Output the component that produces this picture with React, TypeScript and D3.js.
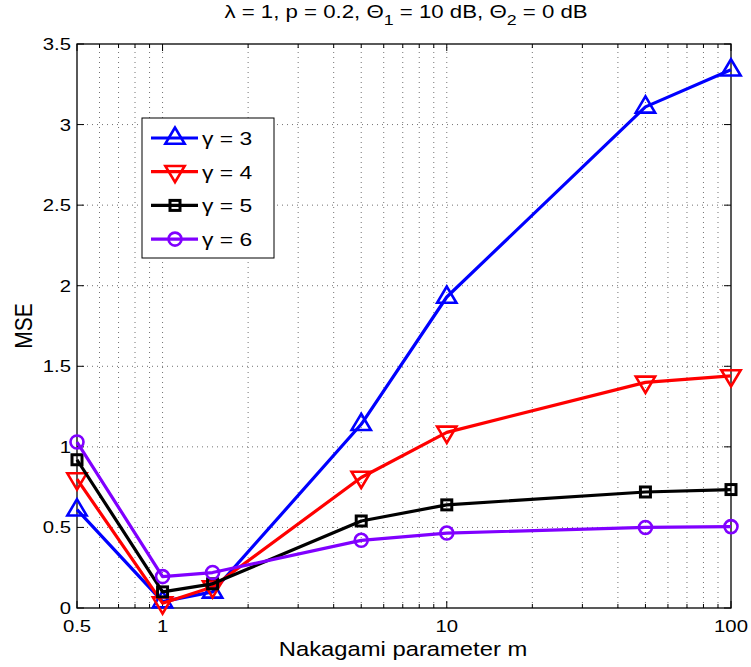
import React from "react";
import * as d3 from "d3";

const mValues = [0.5, 1, 1.5, 5, 10, 50, 100];
const mseGamma3 = [0.61, 0.04, 0.1, 1.14, 1.93, 3.11, 3.34];
const mseGamma4 = [0.8, 0.03, 0.13, 0.81, 1.09, 1.4, 1.44];
const mseGamma5 = [0.92, 0.1, 0.15, 0.54, 0.64, 0.72, 0.735];
const mseGamma6 = [1.03, 0.195, 0.22, 0.42, 0.465, 0.5, 0.505];
const seriesLabels = ["γ = 3", "γ = 4", "γ = 5", "γ = 6"];
const xTickLabels = ["0.5", "1", "10", "100"];
const xTickValues = [0.5, 1, 10, 100];
const yTickValues = [0, 0.5, 1, 1.5, 2, 2.5, 3, 3.5];

const W = 751;
const H = 667;
const margin = { left: 77, right: 20, top: 44, bottom: 59 };
const font = "'Liberation Sans', Arial, Helvetica, sans-serif";
// text glyphs are drawn a little wider than tall
const SX = 1.27;

type MarkerKind = "up" | "down" | "square" | "circle";

const series = [
  { label: seriesLabels[0], values: mseGamma3, color: "#0000ff", marker: "up" as MarkerKind },
  { label: seriesLabels[1], values: mseGamma4, color: "#ff0000", marker: "down" as MarkerKind },
  { label: seriesLabels[2], values: mseGamma5, color: "#000000", marker: "square" as MarkerKind },
  { label: seriesLabels[3], values: mseGamma6, color: "#8000ff", marker: "circle" as MarkerKind },
];

function Marker({ kind, x, y, color }: { kind: MarkerKind; x: number; y: number; color: string }) {
  const sw = 2.6;
  if (kind === "up" || kind === "down") {
    const r = 10.5;
    const s = kind === "up" ? 1 : -1;
    const pts = [
      [x, y - s * r],
      [x - r * 0.92, y + s * r * 0.55],
      [x + r * 0.92, y + s * r * 0.55],
    ];
    return <polygon points={pts.map((p) => p.join(",")).join(" ")} fill="none" stroke={color} strokeWidth={sw} />;
  }
  if (kind === "square") {
    const s = 5;
    return <rect x={x - s} y={y - s} width={2 * s} height={2 * s} fill="none" stroke={color} strokeWidth={3} />;
  }
  return <circle cx={x} cy={y} r={6.5} fill="none" stroke={color} strokeWidth={sw} />;
}

function WideText({
  x,
  y,
  size,
  anchor,
  sx = SX,
  children,
}: {
  x: number;
  y: number;
  size: number;
  anchor: "start" | "middle" | "end";
  sx?: number;
  children: React.ReactNode;
}) {
  return (
    <text
      transform={`translate(${x},${y}) scale(${sx},1)`}
      textAnchor={anchor}
      fontFamily={font}
      fontSize={size}
      fill="#000"
    >
      {children}
    </text>
  );
}

export default function App() {
  const x = d3.scaleLog().domain([0.5, 100]).range([margin.left, W - margin.right]);
  const y = d3.scaleLinear().domain([0, 3.5]).range([H - margin.bottom, margin.top]);
  const x0 = margin.left;
  const x1 = W - margin.right;
  const y0 = H - margin.bottom;
  const y1 = margin.top;

  // minor log ticks across the domain
  const minorX: number[] = [];
  for (const dec of [0.1, 1, 10]) {
    for (let k = 1; k <= 9; k++) {
      const v = +(dec * k).toFixed(3);
      if (v > 0.5 && v < 100 && !xTickValues.includes(v)) minorX.push(v);
    }
  }
  const gridX = [...minorX, 1, 10];

  const line = d3
    .line<number>()
    .x((_, i) => x(mValues[i]))
    .y((d) => y(d));

  const legend = { x: 142, y: 118, w: 132, h: 140 };

  return (
    <svg width={W} height={H} style={{ position: "absolute", left: 0, top: 0, background: "#fff" }}>
      <rect x={0} y={0} width={W} height={H} fill="#fff" />
      {/* grid */}
      <g stroke="#000" strokeWidth={1} strokeDasharray="1,4" opacity={0.55}>
        {gridX.map((v) => (
          <line key={"gx" + v} x1={x(v)} x2={x(v)} y1={y0} y2={y1} />
        ))}
        {yTickValues.slice(1, -1).map((v) => (
          <line key={"gy" + v} x1={x0} x2={x1} y1={y(v)} y2={y(v)} />
        ))}
      </g>
      {/* ticks */}
      <g stroke="#000" strokeWidth={1}>
        {xTickValues.map((v) => (
          <g key={"tx" + v}>
            <line x1={x(v)} x2={x(v)} y1={y0} y2={y0 - 7} />
            <line x1={x(v)} x2={x(v)} y1={y1} y2={y1 + 7} />
          </g>
        ))}
        {minorX.map((v) => (
          <g key={"mx" + v}>
            <line x1={x(v)} x2={x(v)} y1={y0} y2={y0 - 4} />
            <line x1={x(v)} x2={x(v)} y1={y1} y2={y1 + 4} />
          </g>
        ))}
        {yTickValues.map((v) => (
          <g key={"ty" + v}>
            <line x1={x0} x2={x0 + 7} y1={y(v)} y2={y(v)} />
            <line x1={x1} x2={x1 - 7} y1={y(v)} y2={y(v)} />
          </g>
        ))}
      </g>
      <rect x={x0} y={y1} width={x1 - x0} height={y0 - y1} fill="none" stroke="#000" strokeWidth={1.3} />
      {/* tick labels */}
      {xTickValues.map((v, i) => (
        <WideText key={"lx" + v} x={x(v)} y={y0 + 24} size={16} anchor="middle">
          {xTickLabels[i]}
        </WideText>
      ))}
      {yTickValues.map((v) => (
        <WideText key={"ly" + v} x={x0 - 6} y={y(v) + 6} size={16} anchor="end">
          {String(v)}
        </WideText>
      ))}
      {/* series */}
      {series.map((s) => (
        <g key={s.label}>
          <path d={line(s.values) || ""} fill="none" stroke={s.color} strokeWidth={3.2} strokeLinejoin="round" />
          {s.values.map((v, i) => (
            <Marker key={i} kind={s.marker} x={x(mValues[i])} y={y(v)} color={s.color} />
          ))}
        </g>
      ))}
      {/* legend */}
      <rect x={legend.x} y={legend.y} width={legend.w} height={legend.h} fill="#fff" stroke="#000" strokeWidth={1} />
      {series.map((s, i) => {
        const ly = 138 + i * 33.7;
        return (
          <g key={"lg" + s.label}>
            <line x1={151} x2={198} y1={ly} y2={ly} stroke={s.color} strokeWidth={3.2} />
            <Marker kind={s.marker} x={175} y={ly} color={s.color} />
            <WideText x={202} y={ly + 7} size={18} anchor="start">
              {s.label}
            </WideText>
          </g>
        );
      })}
      {/* titles */}
      <WideText x={406} y={18} size={17.5} anchor="middle">
        λ = 1, p = 0.2, Θ
        <tspan dy={7} fontSize={14}>1</tspan>
        <tspan dy={-7}> = 10 dB, Θ</tspan>
        <tspan dy={7} fontSize={14}>2</tspan>
        <tspan dy={-7}> = 0 dB</tspan>
      </WideText>
      <WideText x={403} y={656} size={19.5} anchor="middle" sx={1.22}>
        Nakagami parameter m
      </WideText>
      <text
        transform={`translate(32, 326) scale(1.1,1) rotate(-90)`}
        textAnchor="middle"
        fontFamily={font}
        fontSize={21}
      >
        MSE
      </text>
    </svg>
  );
}
